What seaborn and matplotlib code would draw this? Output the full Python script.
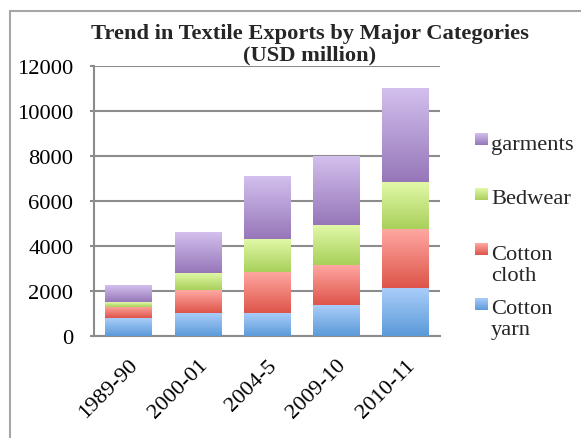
import numpy as np
import pandas as pd
import matplotlib
matplotlib.use("Agg")
import matplotlib.pyplot as plt
import seaborn as sns
from matplotlib.colors import LinearSegmentedColormap
from matplotlib.patches import Rectangle

# ---------------- data ----------------
years = ["1989-90", "2000-01", "2004-5", "2009-10", "2010-11"]
cotton_yarn = [790, 1010, 1010, 1370, 2120]
cotton_cloth = [520, 1020, 1830, 1780, 2630]
bedwear = [180, 760, 1470, 1780, 2090]
garments = [730, 1780, 2760, 3030, 4140]
series_names = ["Cotton yarn", "Cotton cloth", "Bedwear", "garments"]
legend_labels = ["Cotton\nyarn", "Cotton\ncloth", "Bedwear", "garments"]
yticks = [0, 2000, 4000, 6000, 8000, 10000, 12000]
title = "Trend in Textile Exports by Major Categories\n(USD million)"

top_colors = ["#A9CDF9", "#FFA9A3", "#E3F9A9", "#D3C0EE"]
bottom_colors = ["#5B9AD9", "#DE5449", "#A8D05A", "#9676B8"]

df = pd.DataFrame({"year": years,
                   "Cotton yarn": cotton_yarn,
                   "Cotton cloth": cotton_cloth,
                   "Bedwear": bedwear,
                   "garments": garments})

sns.set_theme(style="white")
plt.rcParams["font.family"] = ["Liberation Serif", "DejaVu Serif"]

W, H = 581, 439
fig = plt.figure(figsize=(W / 100, H / 100), dpi=100)
ax = fig.add_axes([94 / W, 1 - 337 / H, (440 - 94) / W, (337 - 67) / H])

grid_col = "#8c8c8c"
fs = 16.2
bottom = np.zeros(len(years))
for name, tc in zip(series_names, top_colors):
    sns.barplot(data=df, x="year", y=name, ax=ax, width=0.67, color=tc,
                bottom=bottom.copy(), linewidth=0, saturation=1, errorbar=None)
    bottom += df[name].to_numpy()

# vertical gradient fill for each segment
grad = np.linspace(0, 1, 256).reshape(-1, 1)
n = len(years)
for i, p in enumerate(list(ax.patches)):
    s = i // n
    cmap = LinearSegmentedColormap.from_list("g%d" % s, [bottom_colors[s], top_colors[s]])
    x0, y0 = p.get_x(), p.get_y()
    w, h = p.get_width(), p.get_height()
    ax.imshow(grad, extent=[x0, x0 + w, y0, y0 + h], origin="lower", cmap=cmap,
              aspect="auto", zorder=3, interpolation="bilinear")

ax.set_xlim(-0.5, n - 0.5)
ax.set_ylim(0, 12000)
ax.set_yticks(yticks)
ax.set_yticklabels([str(v) for v in yticks], fontsize=fs)
ax.set_xticks(range(n))
ax.set_xticklabels(years, rotation=45, ha="right", rotation_mode="anchor", fontsize=fs)
ax.set_xlabel("")
ax.set_ylabel("")
ax.yaxis.grid(True, color=grid_col, lw=1.5)
ax.set_axisbelow(True)
for sp in ["top", "right"]:
    ax.spines[sp].set_visible(False)
for sp in ["left", "bottom"]:
    ax.spines[sp].set_color(grid_col)
    ax.spines[sp].set_linewidth(1.5)
ax.tick_params(axis="y", left=True, length=3, width=1.5, color=grid_col, pad=12, labelcolor="black")
ax.tick_params(axis="x", bottom=False, pad=8, labelcolor="black")

# title
fig.text(310 / W, 1 - 45 / H, title, ha="center", va="center", fontsize=16.2,
         fontweight="bold", linespacing=1.08)

# legend (manual, top to bottom)
sq_centers = [305, 250, 195, 140]
txt_centers = [307, 253, 197, 143]
for k in range(len(series_names) - 1, -1, -1):
    cy = sq_centers[k]
    lax = fig.add_axes([475 / W, 1 - (cy + 6) / H, 13 / W, 12 / H])
    cmap = LinearSegmentedColormap.from_list("l%d" % k, [bottom_colors[k], top_colors[k]])
    lax.imshow(grad, origin="lower", cmap=cmap, aspect="auto", extent=[0, 1, 0, 1])
    lax.set_axis_off()
    fig.text(491 / W, 1 - (txt_centers[k] - 7) / H, legend_labels[k], ha="left", va="top",
             fontsize=fs, linespacing=1.15)

# outer border
fig.add_artist(Rectangle((10 / W, -0.02), 1.0, 1 - 12 / H + 0.02, transform=fig.transFigure,
                         fill=False, edgecolor="#a6a6a6", lw=1.5))

fig.savefig("out.png", dpi=100)
